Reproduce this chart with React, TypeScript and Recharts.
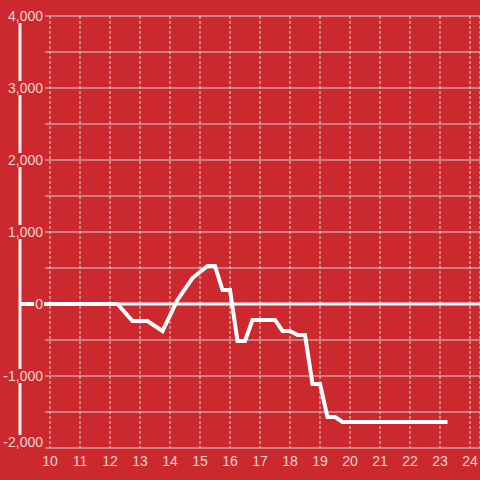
import React from 'react';
import {
  LineChart,
  Line,
  XAxis,
  YAxis,
  CartesianGrid,
  ReferenceLine,
} from 'recharts';

// hour of day and value
const hours = [9, 12.25, 12.75, 13.25, 13.75, 14.25, 14.75, 15.25, 15.5, 15.75, 16, 16.25, 16.5, 16.75, 17.5, 17.75, 18, 18.25, 18.5, 18.75, 19, 19.25, 19.5, 19.75, 23.25];
const values = [0, 0, -236, -236, -375, 56, 361, 528, 528, 194, 194, -514, -514, -222, -222, -375, -375, -430, -430, -1111, -1111, -1569, -1569, -1639, -1639];

const xTicks = [10, 11, 12, 13, 14, 15, 16, 17, 18, 19, 20, 21, 22, 23, 24];
const yTicks = [-2000, -1500, -1000, -500, 0, 500, 1000, 1500, 2000, 2500, 3000, 3500, 4000];

const data = hours.map((h, i) => ({ h, v: values[i] }));

const BG = '#cc292e';
const LABEL = '#f2d4d5';
const FONT = '"Liberation Sans", Arial, sans-serif';

const fmt = (v: number) => v.toLocaleString('en-US');

const textWidth = (s: string) => {
  let w = 0;
  for (const c of s) w += c === ',' ? 3.9 : c === '-' ? 4.7 : 7.8;
  return w;
};

const YTick = (props: any) => {
  const { x, y, payload } = props;
  const v = payload.value;
  if (v % 1000 !== 0) return null;
  const label = fmt(v);
  const right = x + 23;
  const w = textWidth(label);
  const dy = v === -2000 ? -6 : 0;
  return (
    <g>
      <rect x={right - w - 1} y={y + dy - 7} width={w + 2} height={14} fill={BG} />
      <text x={right} y={y + dy} dy="0.35em" textAnchor="end" fill={LABEL} fontSize={14} fontFamily={FONT}>
        {label}
      </text>
    </g>
  );
};

export default function App() {
  return (
    <div style={{ position: 'absolute', left: 0, top: 0, width: 480, height: 480, background: BG }}>
      <LineChart width={480} height={480} data={data} margin={{ top: 16, right: 0, bottom: 0, left: 0 }}>
        <CartesianGrid vertical={false} stroke="#cfd2d2" x={45} width={435} />
        <CartesianGrid horizontal={false} stroke="#d9dcdc" strokeDasharray="3 2" />
        <XAxis
          dataKey="h"
          type="number"
          domain={[9, 24.3333]}
          ticks={xTicks}
          allowDataOverflow
          height={32}
          axisLine={false}
          tickLine={false}
          tickSize={0}
          tickMargin={8}
          tick={{ fill: LABEL, fontSize: 14, fontFamily: FONT }}
        />
        <YAxis
          type="number"
          domain={[-2000, 4000]}
          ticks={yTicks}
          width={20}
          axisLine={{ stroke: '#f2f2f2', strokeWidth: 3 }}
          tickLine={false}
          tickSize={0}
          tickMargin={0}
          tick={<YTick />}
          interval={0}
        />
        <ReferenceLine y={0} stroke="#ffffff" strokeWidth={3} />
        <Line
          type="linear"
          dataKey="v"
          stroke="#ffffff"
          strokeWidth={4}
          dot={false}
          isAnimationActive={false}
        />
      </LineChart>
    </div>
  );
}
